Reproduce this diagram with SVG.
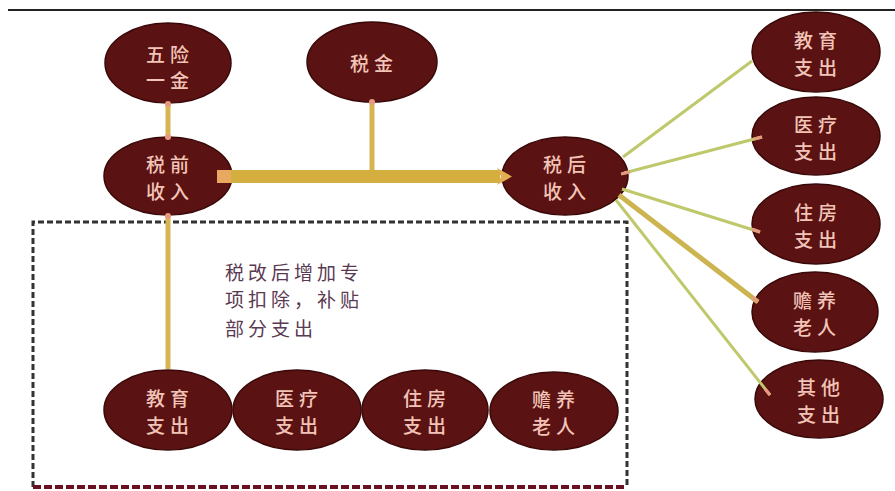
<svg xmlns="http://www.w3.org/2000/svg" width="895" height="491" viewBox="0 0 895 491">
<defs>
<style>
.node ellipse{fill:#5a1212;stroke:#3a0808;stroke-width:1.5}
.node text{fill:#f2c4b8;font-family:"Noto Sans CJK SC","Noto Sans CJK JP",sans-serif;font-size:19px;font-weight:500;letter-spacing:5px;text-anchor:middle}
.thin{stroke:#bfc86a;stroke-width:3;fill:none}
.gold{stroke:#d6b552;stroke-width:5;fill:none}
.tip{fill:#e89a80}
.tipl{stroke:#e89a80;stroke-width:3}
.note{fill:#5a3a52;font-family:"Noto Sans CJK SC","Noto Sans CJK JP",sans-serif;font-size:19px;letter-spacing:4px}
</style>
</defs>
<rect width="895" height="491" fill="#ffffff"/>
<line x1="8" y1="10" x2="895" y2="10" stroke="#222" stroke-width="2"/>
<g id="box">
<path d="M33 487 V222 H627 V487" fill="none" stroke="#333" stroke-width="3" stroke-dasharray="6 3"/>
<line x1="33" y1="487" x2="627" y2="487" stroke="#6a1020" stroke-width="4" stroke-dasharray="8 3"/>
</g>
<g id="n-wuxian" class="node"><ellipse cx="168" cy="63" rx="63" ry="40"/><text x="170" y="62">五险</text><text x="170" y="88">一金</text></g>
<g id="n-shuijin" class="node"><ellipse cx="372" cy="62" rx="65" ry="40"/><text x="374" y="71">税金</text></g>
<g id="n-shuiqian" class="node"><ellipse cx="168" cy="176" rx="64" ry="39"/><text x="170" y="172">税前</text><text x="170" y="199">收入</text></g>
<g id="n-shuihou" class="node"><ellipse cx="565" cy="176" rx="63" ry="39"/><text x="567" y="172">税后</text><text x="567" y="199">收入</text></g>
<g id="n-r-jiaoyu" class="node"><ellipse cx="816" cy="52" rx="64" ry="40"/><text x="818" y="48">教育</text><text x="818" y="75">支出</text></g>
<g id="n-r-yiliao" class="node"><ellipse cx="816" cy="136" rx="64" ry="39"/><text x="818" y="132">医疗</text><text x="818" y="159">支出</text></g>
<g id="n-r-zhufang" class="node"><ellipse cx="816" cy="224" rx="64" ry="40"/><text x="818" y="220">住房</text><text x="818" y="247">支出</text></g>
<g id="n-r-shanyang" class="node"><ellipse cx="815" cy="312" rx="63" ry="40"/><text x="817" y="308">赡养</text><text x="817" y="335">老人</text></g>
<g id="n-r-qita" class="node"><ellipse cx="819" cy="399" rx="64" ry="39"/><text x="821" y="395">其他</text><text x="821" y="422">支出</text></g>
<g id="n-b-jiaoyu" class="node"><ellipse cx="168" cy="410" rx="64" ry="40"/><text x="170" y="406">教育</text><text x="170" y="433">支出</text></g>
<g id="n-b-yiliao" class="node"><ellipse cx="297" cy="410" rx="64" ry="40"/><text x="299" y="406">医疗</text><text x="299" y="433">支出</text></g>
<g id="n-b-zhufang" class="node"><ellipse cx="425" cy="410" rx="63" ry="40"/><text x="427" y="406">住房</text><text x="427" y="433">支出</text></g>
<g id="n-b-shanyang" class="node"><ellipse cx="554" cy="411" rx="64" ry="39"/><text x="556" y="407">赡养</text><text x="556" y="434">老人</text></g>
<g id="connectors">
<line class="gold" x1="168" y1="103" x2="168" y2="137"/>
<circle class="tip" cx="168" cy="104" r="3"/>
<circle class="tip" cx="168" cy="137" r="3"/>
<line class="gold" x1="372" y1="101" x2="372" y2="172"/>
<circle class="tip" cx="372" cy="102" r="3"/>
<line class="gold" x1="168" y1="215" x2="168" y2="369"/>
<circle class="tip" cx="168" cy="216" r="3"/>
<rect x="217" y="170" width="14" height="13" fill="#e8a860"/>
<line x1="231" y1="176.5" x2="500" y2="176.5" stroke="#d4ae3e" stroke-width="13"/>
<polygon points="497,168 512,176.5 497,185 501,176.5" fill="#e0b050"/>
<line class="thin" x1="623" y1="157" x2="752" y2="61"/>
<line class="thin" x1="624" y1="173" x2="762" y2="137"/>
<line class="thin" x1="622" y1="189" x2="760" y2="232"/>
<line x1="619" y1="195" x2="758" y2="302" stroke="#ccb450" stroke-width="5"/>
<line class="thin" x1="616" y1="200" x2="770" y2="395"/>
<line class="tipl" x1="621" y1="174" x2="630" y2="172"/>
<line class="tipl" x1="754" y1="139" x2="762" y2="137"/>
<line class="tipl" x1="752" y1="229" x2="760" y2="232"/>
<line class="tipl" x1="752" y1="297" x2="758" y2="302"/>
<line class="tipl" x1="765" y1="389" x2="770" y2="395"/>
</g>
<g id="note">
<text class="note" x="225" y="280">税改后增加专</text>
<text class="note" x="225" y="307">项扣除，补贴</text>
<text class="note" x="225" y="336">部分支出</text>
</g>
</svg>
